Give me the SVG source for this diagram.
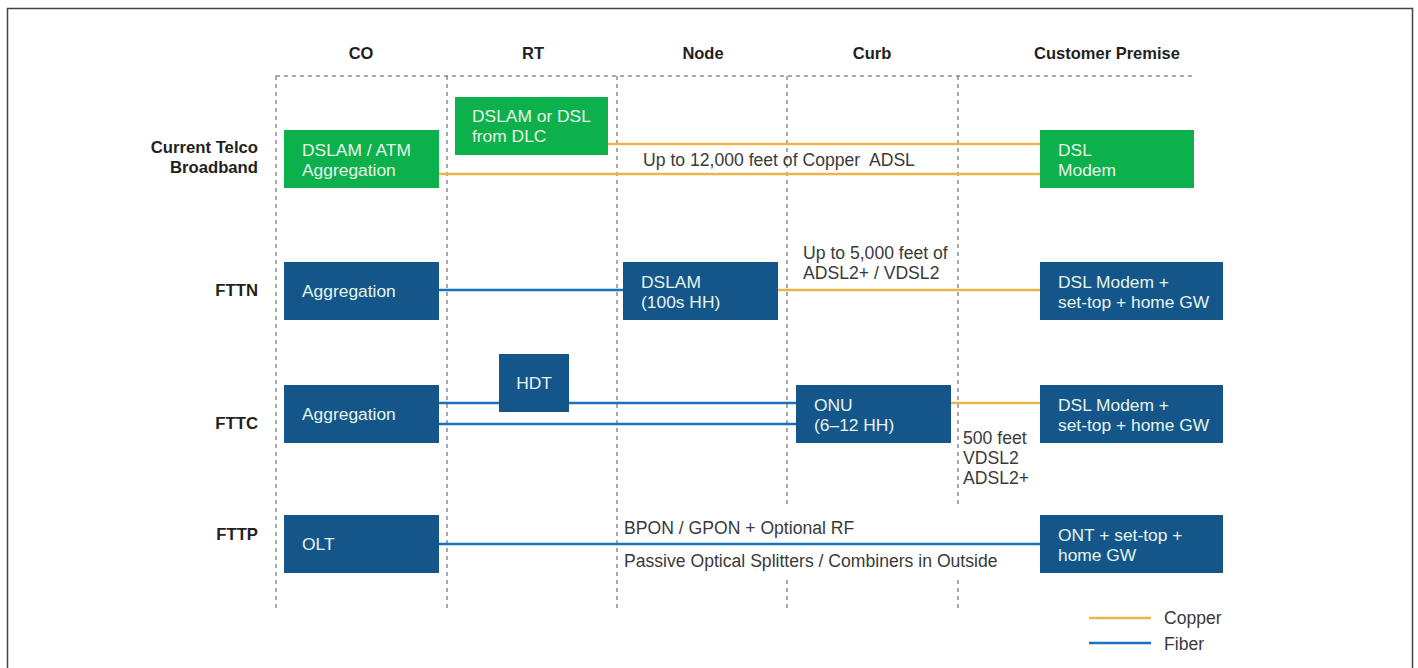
<svg xmlns="http://www.w3.org/2000/svg" width="1418" height="668" viewBox="0 0 1418 668">
<style>
.hdr{font-family:"Liberation Sans",Arial,sans-serif;font-weight:bold;font-size:16.5px;fill:#231f20}
.row{font-family:"Liberation Sans",Arial,sans-serif;font-weight:bold;font-size:16.7px;fill:#231f20;text-anchor:end}
.bt{font-family:"Liberation Sans",Arial,sans-serif;font-size:17.4px;fill:#e6f4ea}
.lbl{font-family:"Liberation Sans",Arial,sans-serif;font-size:17.6px;fill:#3a3a3a;white-space:pre}
.green{fill:#0db14b}
.blue{fill:#14568a}
.grid{stroke:#555;stroke-width:1;stroke-dasharray:4,4;fill:none}
.cu{stroke:#ebb54a;stroke-width:2.5;fill:none}
.fi{stroke:#1a72b9;stroke-width:2.5;fill:none}
</style>
<rect x="7.5" y="8.5" width="1405" height="700" fill="#fff" stroke="#444" stroke-width="1.5"/>
<g id="grid">
<line class="grid" x1="276" y1="76" x2="1192" y2="76"/>
<line class="grid" x1="276" y1="76" x2="276" y2="610"/>
<line class="grid" x1="447" y1="76" x2="447" y2="610"/>
<line class="grid" x1="617" y1="76" x2="617" y2="610"/>
<line class="grid" x1="787" y1="76" x2="787" y2="508"/>
<line class="grid" x1="787" y1="580" x2="787" y2="608"/>
<line class="grid" x1="958" y1="76" x2="958" y2="508"/>
<line class="grid" x1="958" y1="580" x2="958" y2="608"/>
</g>
<g id="headers">
<text class="hdr" x="361" y="59" text-anchor="middle">CO</text>
<text class="hdr" x="533" y="59" text-anchor="middle">RT</text>
<text class="hdr" x="703" y="59" text-anchor="middle">Node</text>
<text class="hdr" x="872" y="59" text-anchor="middle">Curb</text>
<text class="hdr" x="1107" y="59" text-anchor="middle">Customer Premise</text>
</g>
<g id="rowlabels">
<text class="row" x="258" y="153">Current Telco</text>
<text class="row" x="258" y="173">Broadband</text>
<text class="row" x="258" y="296">FTTN</text>
<text class="row" x="258" y="429">FTTC</text>
<text class="row" x="258" y="540">FTTP</text>
</g>
<g id="connectors">
<line class="cu" x1="608" y1="144" x2="1040" y2="144"/>
<line class="cu" x1="439" y1="174" x2="1040" y2="174"/>
<line class="fi" x1="439" y1="290" x2="623" y2="290"/>
<line class="cu" x1="778" y1="290" x2="1040" y2="290"/>
<line class="fi" x1="439" y1="403" x2="796" y2="403"/>
<line class="fi" x1="439" y1="424" x2="796" y2="424"/>
<line class="cu" x1="951" y1="403" x2="1040" y2="403"/>
<line class="fi" x1="439" y1="544" x2="1040" y2="544"/>
</g>
<g id="connector-labels">
<text class="lbl" x="643" y="166" xml:space="preserve">Up to 12,000 feet of Copper  ADSL</text>
<text class="lbl" x="803" y="259">Up to 5,000 feet of</text>
<text class="lbl" x="803" y="279">ADSL2+ / VDSL2</text>
<text class="lbl" x="963" y="444">500 feet</text>
<text class="lbl" x="963" y="464">VDSL2</text>
<text class="lbl" x="963" y="484">ADSL2+</text>
<text class="lbl" x="624" y="534">BPON / GPON + Optional RF</text>
<text class="lbl" x="624" y="567">Passive Optical Splitters / Combiners in Outside</text>
</g>
<g id="dslam-atm">
<rect class="green" x="284" y="130" width="155" height="58"/>
<text class="bt" x="302" y="156">DSLAM / ATM</text>
<text class="bt" x="302" y="176">Aggregation</text>
</g>
<g id="dslam-dlc">
<rect class="green" x="455" y="97" width="153" height="58"/>
<text class="bt" x="472" y="122">DSLAM or DSL</text>
<text class="bt" x="472" y="142">from DLC</text>
</g>
<g id="dsl-modem-1">
<rect class="green" x="1040" y="130" width="154" height="58"/>
<text class="bt" x="1058" y="156">DSL</text>
<text class="bt" x="1058" y="176">Modem</text>
</g>
<g id="fttn-agg">
<rect class="blue" x="284" y="262" width="155" height="58"/>
<text class="bt" x="302" y="297">Aggregation</text>
</g>
<g id="fttn-dslam">
<rect class="blue" x="623" y="262" width="155" height="58"/>
<text class="bt" x="641" y="288">DSLAM</text>
<text class="bt" x="641" y="308">(100s HH)</text>
</g>
<g id="fttn-modem">
<rect class="blue" x="1040" y="262" width="183" height="58"/>
<text class="bt" x="1058" y="288">DSL Modem +</text>
<text class="bt" x="1058" y="308">set-top + home GW</text>
</g>
<g id="fttc-agg">
<rect class="blue" x="284" y="385" width="155" height="58"/>
<text class="bt" x="302" y="420">Aggregation</text>
</g>
<g id="hdt">
<rect class="blue" x="499" y="354" width="70" height="58"/>
<text class="bt" x="534" y="389" text-anchor="middle">HDT</text>
</g>
<g id="onu">
<rect class="blue" x="796" y="385" width="155" height="58"/>
<text class="bt" x="814" y="411">ONU</text>
<text class="bt" x="814" y="431">(6–12 HH)</text>
</g>
<g id="fttc-modem">
<rect class="blue" x="1040" y="385" width="183" height="58"/>
<text class="bt" x="1058" y="411">DSL Modem +</text>
<text class="bt" x="1058" y="431">set-top + home GW</text>
</g>
<g id="olt">
<rect class="blue" x="284" y="515" width="155" height="58"/>
<text class="bt" x="302" y="550">OLT</text>
</g>
<g id="ont">
<rect class="blue" x="1040" y="515" width="183" height="58"/>
<text class="bt" x="1058" y="541">ONT + set-top +</text>
<text class="bt" x="1058" y="561">home GW</text>
</g>
<g id="legend">
<line class="cu" x1="1089" y1="618" x2="1151" y2="618"/>
<text class="lbl" x="1164" y="624">Copper</text>
<line class="fi" x1="1089" y1="643" x2="1151" y2="643"/>
<text class="lbl" x="1164" y="650">Fiber</text>
</g>
</svg>
